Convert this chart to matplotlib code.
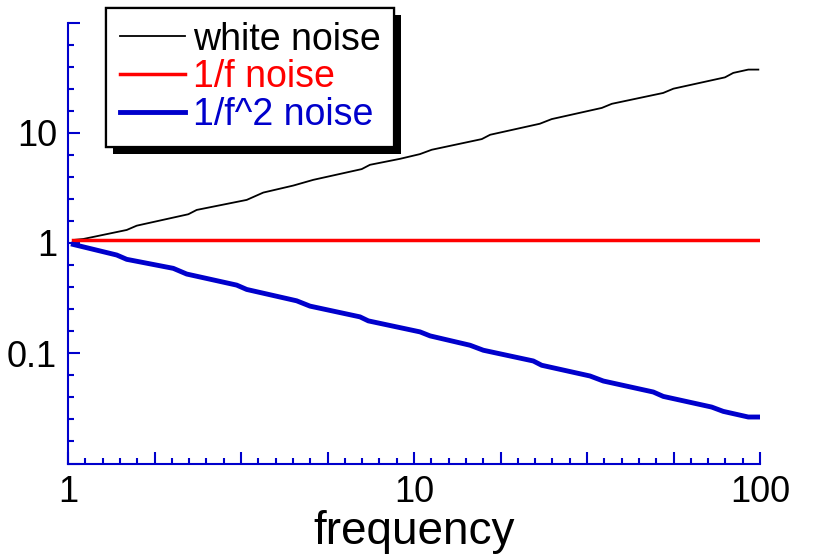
import numpy as np
import matplotlib
matplotlib.use("Agg")
import matplotlib.pyplot as plt
import matplotlib.patheffects as pe
from matplotlib.ticker import FixedLocator, FixedFormatter

plt.rcParams['font.family'] = ['Liberation Sans', 'DejaVu Sans']

# values (log-log)
white_f = [1.036, 1.107, 1.478, 1.58, 2.227, 2.355, 3.285, 3.668, 4.48, 5.117,
           7.06, 7.46, 9.11, 10.4, 11.25, 15.7, 16.6, 23.1, 25.0, 34.9, 37.3,
           52.5, 56.2, 79.2, 83.7, 92.5, 98.9]
white_v = [1.065, 1.087, 1.313, 1.436, 1.823, 1.995, 2.46, 2.867, 3.32, 3.74,
           4.68, 5.12, 5.80, 6.40, 7.01, 8.76, 9.59, 12.07, 13.3, 16.8, 18.3,
           22.96, 25.1, 31.8, 34.9, 37.4, 37.4]

pink_f = [1.036, 98.9]
pink_v = [1.07, 1.07]

brown_f = [1.036, 1.383, 1.478, 2.015, 2.203, 3.073, 3.285, 4.58, 5.005, 6.98,
           7.38, 10.41, 11.13, 14.52, 15.86, 22.12, 23.39, 32.26, 35.25, 49.17,
           52.54, 72.5, 78.3, 92.5, 98.9]
brown_v = [0.97, 0.778, 0.711, 0.589, 0.523, 0.415, 0.379, 0.299, 0.2676, 0.2138,
           0.1966, 0.1562, 0.1437, 0.1182, 0.1065, 0.0851, 0.0778, 0.0622, 0.056,
           0.0445, 0.0406, 0.0325, 0.0297, 0.0264, 0.0264]

labels = ['white noise', '1/f noise', '1/f^2 noise']

axis_blue = '#0000cc'

fig = plt.figure(figsize=(8.17, 5.54), dpi=100)
ax = fig.add_axes([68 / 817, 1 - 463.5 / 554, 692 / 817, 441 / 554])

ax.plot(white_f, white_v, color='black', lw=1.3, label=labels[0])
ax.plot(pink_f, pink_v, color='#ff0000', lw=2.5, label=labels[1])
ax.plot(brown_f, brown_v, color=axis_blue, lw=3.5, label=labels[2])

ax.set_xscale('log')
ax.set_yscale('log')
ax.set_xlim(1, 100)
ax.set_ylim(0.01, 100)

# x: long ticks every quarter decade, short every 1/20 decade
xmaj = 10 ** (np.arange(0, 9) / 4)
xlab = ['1', '', '', '', '10', '', '', '', '100']
ax.xaxis.set_major_locator(FixedLocator(xmaj))
ax.xaxis.set_major_formatter(FixedFormatter(xlab))
ax.xaxis.set_minor_locator(FixedLocator(10 ** (np.arange(0, 41) / 20)))
ax.xaxis.set_minor_formatter(FixedFormatter([''] * 41))

ymaj = [0.01, 0.1, 1, 10, 100]
ylab = ['', '0.1', '1', '10', '']
ax.yaxis.set_major_locator(FixedLocator(ymaj))
ax.yaxis.set_major_formatter(FixedFormatter(ylab))
ax.yaxis.set_minor_locator(FixedLocator(10 ** (np.arange(-10, 11) / 5)))
ax.yaxis.set_minor_formatter(FixedFormatter([''] * 21))

for s in ['top', 'right']:
    ax.spines[s].set_visible(False)
for s in ['left', 'bottom']:
    ax.spines[s].set_color(axis_blue)
    ax.spines[s].set_linewidth(1.5)

ax.tick_params(which='both', direction='in', color=axis_blue, width=1.5,
               labelsize=26, labelcolor='black')
ax.tick_params(which='major', length=8.6)
ax.tick_params(which='minor', length=4.3)
ax.tick_params(axis='y', which='major', pad=8)
ax.tick_params(axis='x', which='major', pad=8)

ax.set_xlabel('frequency', fontsize=33, labelpad=0)

leg = ax.legend(loc='upper left', bbox_to_anchor=(106 / 817, 1 - 8 / 554),
                bbox_transform=fig.transFigure, borderaxespad=0, fontsize=27,
                frameon=True, fancybox=False, handlelength=1.75,
                handletextpad=0.2, labelspacing=0.05, borderpad=0.36)
frame = leg.get_frame()
frame.set_edgecolor('black')
frame.set_linewidth(1.6)
frame.set_alpha(1)
frame.set_path_effects([pe.withSimplePatchShadow(offset=(5, -5), shadow_rgbFace='black', alpha=1),
                        pe.Normal()])
for txt, c in zip(leg.get_texts(), ['black', '#ff0000', axis_blue]):
    txt.set_color(c)

fig.savefig('out.png', dpi=100)
